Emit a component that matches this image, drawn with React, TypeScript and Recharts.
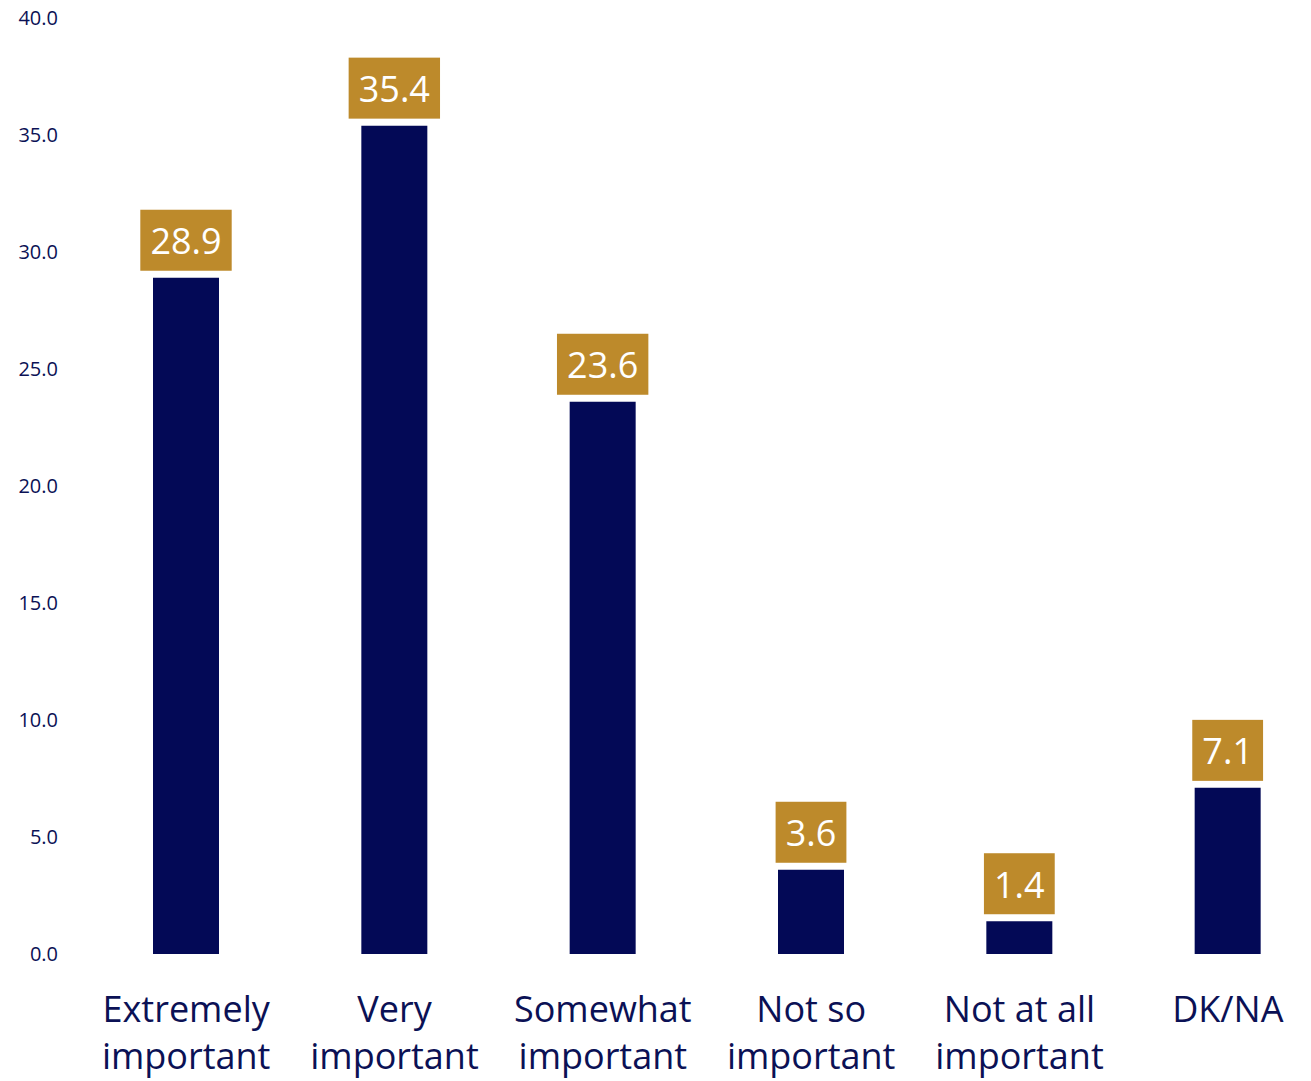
import React from "react";
import { BarChart, Bar, XAxis, YAxis, LabelList } from "recharts";

const categories = [
  "Extremely important",
  "Very important",
  "Somewhat important",
  "Not so important",
  "Not at all important",
  "DK/NA",
];
const categoryLines = [
  ["Extremely", "important"],
  ["Very", "important"],
  ["Somewhat", "important"],
  ["Not so", "important"],
  ["Not at all", "important"],
  ["DK/NA"],
];
const values = [28.9, 35.4, 23.6, 3.6, 1.4, 7.1];
const yTicks = [0, 5, 10, 15, 20, 25, 30, 35, 40];

const NAVY = "#030956";
const TEXT = "#0b1155";
const GOLD = "#bd8a2b";
const FONT = "'Open Sans', 'Noto Sans', sans-serif";

const data = categories.map((name, i) => ({ name, value: values[i], idx: i }));

function textWidth(s: string, size: number) {
  let w = 0;
  for (const ch of s) w += ch === "." ? 0.267 : 0.572;
  return w * size;
}

function CategoryTick(props: any) {
  const { x, y, index } = props;
  const lines = categoryLines[index] || [];
  return (
    <g>
      {lines.map((line, i) => (
        <text
          key={i}
          x={x}
          y={y + 60 + i * 47}
          textAnchor="middle"
          fill={TEXT}
          fontSize={36}
          fontFamily={FONT}
        >
          {line}
        </text>
      ))}
    </g>
  );
}

function ValueBox(props: any) {
  const { x, y, width, value } = props;
  const label = Number(value).toFixed(1);
  const size = 36;
  const w = textWidth(label, size) + 20;
  const h = 61;
  const cx = x + width / 2;
  const bottom = y - 7;
  return (
    <g>
      <rect x={cx - w / 2} y={bottom - h} width={w} height={h} fill={GOLD} />
      <text
        x={cx}
        y={bottom - h / 2 + 14}
        textAnchor="middle"
        fill="#ffffff"
        fontSize={size}
        fontFamily={FONT}
      >
        {label}
      </text>
    </g>
  );
}

export default function App() {
  return (
    <div
      style={{
        position: "absolute",
        left: 0,
        top: 0,
        width: 1311,
        height: 1081,
        overflow: "hidden",
        background: "#ffffff",
      }}
    >
      <BarChart
        width={1332}
        height={1081}
        data={data}
        margin={{ top: 18, right: 0, bottom: 0, left: 0 }}
      >
        <XAxis
          dataKey="name"
          axisLine={false}
          tickLine={false}
          height={127}
          interval={0}
          tick={<CategoryTick />}
        />
        <YAxis
          domain={[0, 40]}
          ticks={yTicks}
          width={82}
          axisLine={false}
          tickLine={false}
          tickMargin={18}
          tickFormatter={(v: number) => v.toFixed(1)}
          tick={{ fill: TEXT, fontSize: 20, fontFamily: FONT }}
        />
        <Bar dataKey="value" fill={NAVY} barSize={66} isAnimationActive={false}>
          <LabelList dataKey="value" content={<ValueBox />} />
        </Bar>
      </BarChart>
    </div>
  );
}
